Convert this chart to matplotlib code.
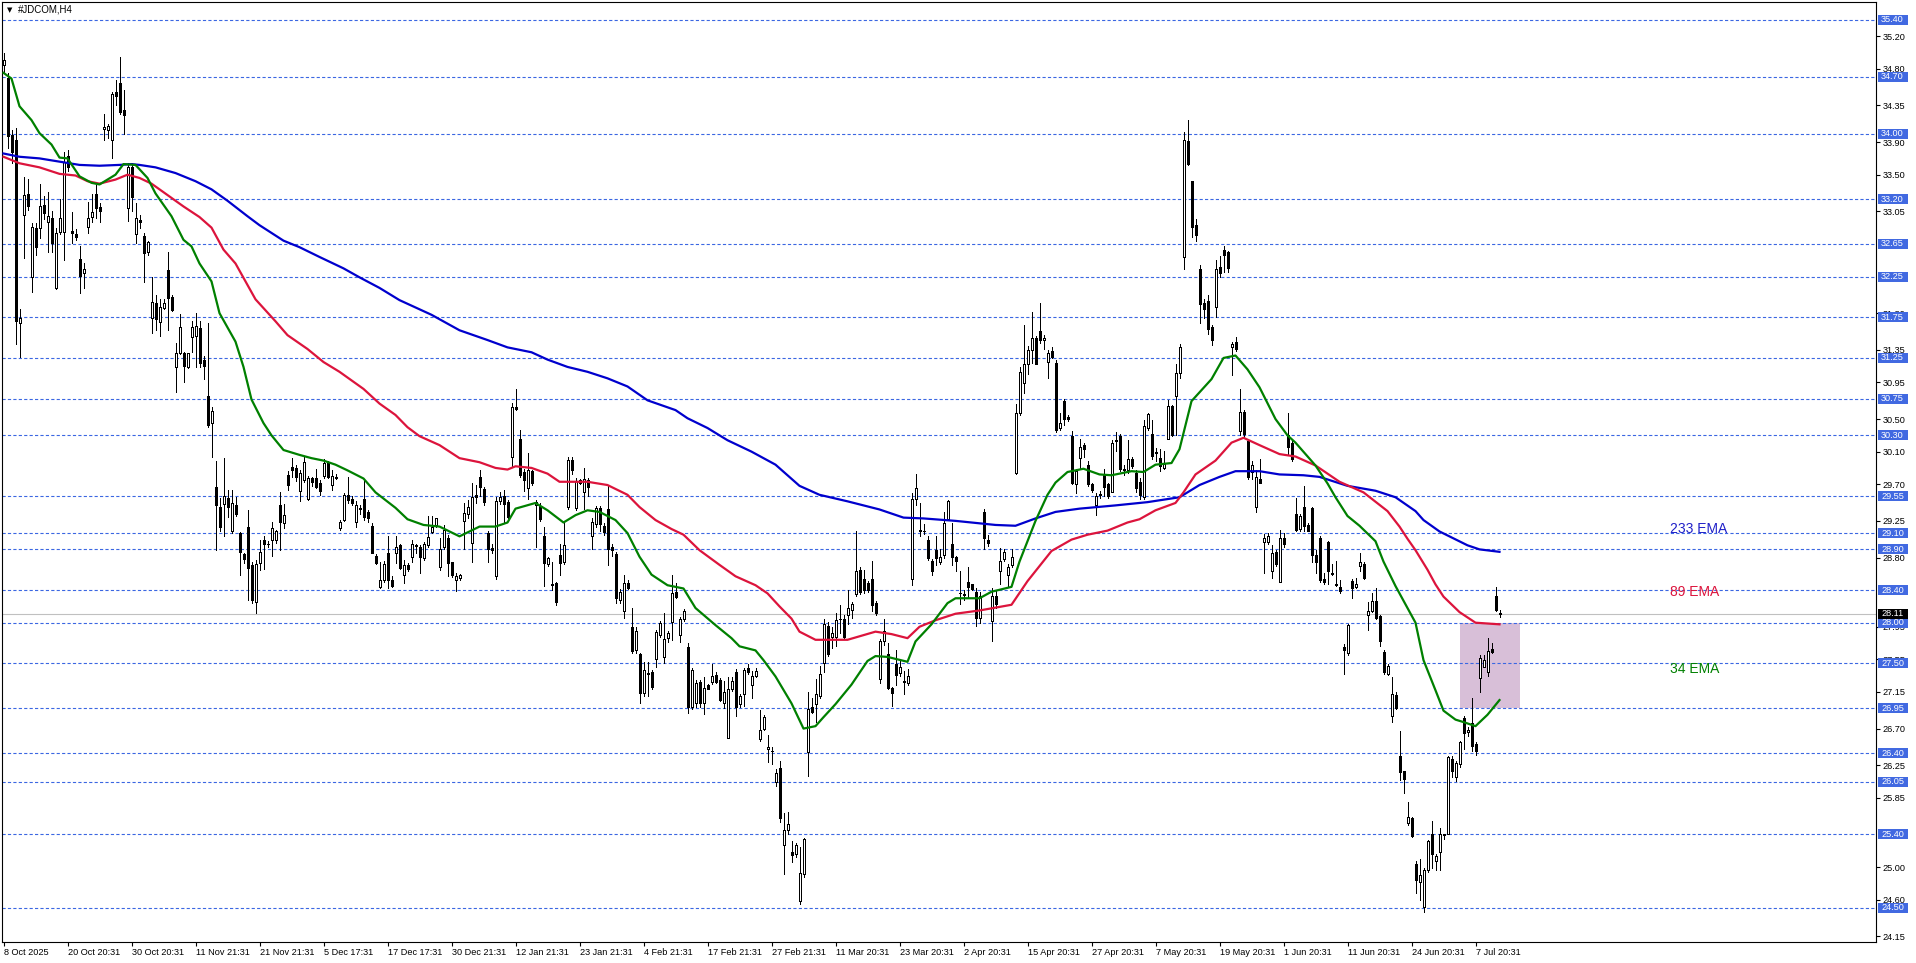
import matplotlib
matplotlib.use("Agg")
import matplotlib.pyplot as plt
from matplotlib.patches import Rectangle
from matplotlib.transforms import blended_transform_factory
import numpy as np

# H4 candles, bar 0 = 8 Oct 2025 (10 per line)
opens = [
    34.85, 34.69, 33.99, 33.92, 31.68, 33.00, 33.26, 32.25, 32.84, 32.84,  # 0
    33.13, 32.92, 32.97, 32.11, 32.80, 32.80, 33.73, 32.81, 32.77, 32.47,  # 10
    32.29, 32.86, 32.98, 33.26, 33.10, 34.06, 34.05, 33.92, 34.52, 34.63,  # 20
    34.30, 33.09, 33.59, 32.77, 32.94, 32.75, 32.55, 31.74, 31.92, 31.69,  # 30
    31.86, 32.33, 32.00, 31.14, 31.31, 31.31, 31.14, 31.51, 31.52, 31.62,  # 40
    31.22, 30.78, 30.45, 29.67, 29.42, 29.46, 29.53, 29.12, 29.44, 29.10,  # 50
    28.84, 29.17, 28.71, 28.25, 28.73, 29.02, 28.97, 29.01, 29.01, 29.44,  # 60
    29.22, 29.81, 29.91, 29.90, 29.62, 29.75, 29.52, 29.78, 29.78, 29.71,  # 70
    29.80, 29.96, 29.69, 29.79, 29.16, 29.26, 29.57, 29.52, 29.24, 29.41,  # 80
    29.52, 29.36, 29.19, 28.82, 28.44, 28.52, 28.86, 28.52, 28.86, 28.95,  # 90
    28.58, 28.71, 28.81, 28.94, 28.93, 28.79, 28.95, 29.11, 29.20, 28.68,  # 100
    28.93, 29.04, 28.74, 28.53, 28.55, 29.25, 29.34, 28.98, 29.57, 29.79,  # 110
    29.64, 29.10, 28.92, 28.57, 29.49, 29.56, 29.48, 30.04, 30.65, 30.26,  # 120
    29.85, 29.65, 29.86, 29.44, 29.43, 29.06, 28.72, 28.47, 28.49, 28.83,  # 130
    28.74, 29.42, 30.00, 29.41, 29.75, 29.61, 29.75, 29.06, 29.21, 29.41,  # 140
    29.19, 29.39, 28.93, 28.84, 28.28, 28.14, 28.49, 27.95, 27.66, 27.62,  # 150
    27.14, 27.37, 27.39, 27.55, 27.85, 27.58, 27.81, 28.01, 28.38, 27.85,  # 160
    28.05, 27.70, 26.96, 27.01, 27.27, 27.01, 27.23, 27.27, 27.36, 27.30,  # 170
    27.02, 26.59, 27.18, 27.39, 27.00, 27.12, 27.44, 27.24, 27.34, 26.57,  # 180
    26.69, 26.45, 26.42, 26.05, 26.22, 25.27, 25.45, 25.19, 25.16, 24.58,  # 190
    24.91, 26.41, 26.97, 27.00, 27.10, 27.50, 27.96, 27.82, 27.82, 28.04,  # 200
    28.05, 28.10, 28.16, 28.35, 28.65, 28.54, 28.49, 28.54, 28.24, 27.31,  # 210
    27.77, 27.62, 27.20, 27.49, 27.38, 27.28, 27.26, 28.54, 29.52, 29.12,  # 220
    29.13, 29.02, 28.76, 28.89, 28.75, 28.83, 29.27, 28.96, 28.81, 28.37,  # 230
    28.35, 28.50, 28.47, 28.38, 28.06, 29.36, 29.02, 28.02, 28.33, 28.64,  # 240
    28.78, 28.58, 28.71, 29.84, 30.58, 30.94, 31.17, 31.35, 31.50, 31.58,  # 250
    31.47, 31.20, 31.33, 31.19, 30.39, 30.72, 30.52, 30.29, 29.70, 30.02,  # 260
    30.18, 29.94, 29.70, 29.44, 29.58, 29.82, 29.70, 29.61, 30.24, 30.29,  # 270
    29.89, 29.87, 30.01, 29.84, 29.73, 29.54, 30.39, 30.32, 30.09, 30.02,  # 280
    29.90, 30.26, 30.66, 30.78, 31.06, 32.49, 33.91, 33.42, 32.88, 32.34,  # 290
    31.92, 31.95, 31.63, 31.88, 32.37, 32.57, 32.55, 31.38, 31.45, 30.35,  # 300
    30.59, 30.23, 29.85, 29.42, 29.77, 28.99, 28.99, 28.63, 28.87, 28.50,  # 310
    29.04, 30.31, 30.21, 29.34, 29.15, 29.42, 29.20, 29.41, 28.83, 29.04,  # 320
    28.54, 28.99, 28.61, 28.48, 28.44, 27.70, 27.63, 28.51, 28.44, 28.69,  # 330
    28.72, 28.10, 28.14, 28.27, 28.08, 27.64, 27.37, 26.85, 27.11, 26.36,  # 340
    26.18, 25.54, 25.60, 25.04, 24.82, 24.51, 24.96, 25.41, 25.07, 25.18,  # 350
    25.39, 25.41, 26.33, 26.10, 26.27, 26.83, 26.66, 26.77, 26.51, 27.32,  # 360
    27.46, 27.40, 27.68, 28.33, 28.12,                                     # 370
]
highs = [
    35.00, 34.75, 34.05, 34.07, 31.85, 33.47, 33.45, 32.91, 32.91, 33.39,
    33.24, 33.29, 33.05, 32.85, 33.20, 33.78, 33.80, 33.04, 32.83, 32.63,
    32.42, 33.16, 33.26, 33.37, 33.15, 34.25, 34.12, 34.52, 34.66, 34.94,
    34.54, 33.64, 33.64, 33.15, 33.00, 32.78, 32.69, 32.24, 32.02, 31.97,
    31.97, 32.55, 32.02, 31.43, 31.79, 31.32, 31.31, 31.70, 31.80, 31.70,
    31.27, 31.68, 30.65, 29.98, 29.53, 30.02, 29.63, 29.63, 29.54, 29.11,
    28.86, 29.38, 28.74, 28.77, 29.01, 29.06, 29.00, 29.24, 29.14, 29.61,
    29.46, 29.86, 30.02, 29.94, 29.87, 30.05, 29.80, 29.79, 29.89, 29.75,
    30.01, 29.98, 29.87, 29.82, 29.26, 29.59, 29.79, 29.55, 29.49, 29.44,
    29.76, 29.38, 29.22, 28.84, 28.74, 28.76, 29.07, 28.57, 29.06, 28.96,
    28.77, 28.73, 29.02, 28.97, 28.95, 28.99, 29.31, 29.31, 29.29, 29.04,
    29.20, 29.08, 28.75, 28.61, 28.60, 29.47, 29.51, 29.72, 29.69, 29.88,
    29.66, 29.12, 28.96, 29.54, 29.60, 29.63, 29.51, 30.70, 30.87, 30.36,
    29.89, 30.08, 29.87, 29.51, 29.47, 29.17, 28.81, 28.74, 28.50, 28.97,
    29.24, 30.04, 30.04, 29.78, 29.77, 29.90, 29.78, 29.28, 29.43, 29.43,
    29.22, 29.69, 28.96, 28.87, 28.41, 28.58, 28.53, 28.18, 27.95, 27.63,
    27.52, 27.52, 27.42, 27.91, 28.02, 28.12, 27.90, 28.58, 28.49, 28.07,
    28.17, 27.75, 27.44, 27.30, 27.30, 27.33, 27.25, 27.49, 27.39, 27.32,
    27.29, 27.33, 27.33, 27.43, 27.12, 27.44, 27.49, 27.41, 27.44, 26.93,
    26.87, 26.62, 26.48, 26.20, 26.30, 25.66, 25.67, 25.32, 25.30, 25.25,
    25.36, 27.15, 27.07, 27.31, 27.47, 28.05, 28.01, 27.95, 28.12, 28.22,
    28.10, 28.40, 28.26, 29.13, 28.68, 28.65, 28.51, 28.76, 28.27, 27.80,
    28.05, 27.75, 27.21, 27.66, 27.53, 27.41, 27.43, 29.59, 29.82, 29.47,
    29.21, 29.07, 28.78, 29.07, 28.90, 29.36, 29.51, 29.22, 28.82, 28.64,
    28.40, 28.68, 28.48, 28.42, 28.38, 29.39, 29.08, 28.43, 28.40, 28.92,
    28.91, 28.72, 28.91, 30.69, 31.14, 31.65, 31.40, 31.82, 31.52, 31.93,
    31.53, 31.35, 31.38, 31.22, 30.57, 30.75, 30.55, 30.35, 29.89, 30.26,
    30.21, 29.99, 29.72, 29.59, 29.62, 29.89, 29.72, 30.24, 30.34, 30.32,
    29.94, 30.24, 30.03, 29.88, 29.78, 30.49, 30.58, 30.49, 30.14, 30.13,
    30.11, 30.73, 30.67, 31.17, 31.42, 34.02, 34.17, 33.42, 32.96, 32.39,
    31.97, 32.02, 31.66, 32.45, 32.50, 32.63, 32.56, 31.44, 31.51, 30.87,
    30.61, 30.24, 29.98, 29.87, 30.01, 29.09, 29.10, 28.95, 28.89, 29.14,
    29.10, 30.58, 30.24, 29.53, 29.34, 29.68, 29.23, 29.42, 28.89, 29.06,
    28.61, 29.00, 28.72, 28.76, 28.53, 27.74, 27.99, 28.54, 28.55, 28.85,
    28.75, 28.26, 28.37, 28.42, 28.10, 27.66, 27.49, 27.33, 27.15, 26.67,
    26.18, 25.80, 25.61, 25.07, 25.10, 24.99, 25.33, 25.57, 25.16, 25.48,
    25.41, 26.36, 26.36, 26.30, 26.55, 26.85, 26.72, 27.08, 26.53, 27.60,
    27.60, 27.81, 27.75, 28.44, 28.16,
]
lows = [
    34.75, 33.83, 33.64, 31.42, 31.26, 32.48, 33.07, 32.06, 32.51, 32.72,
    32.95, 32.55, 32.55, 32.10, 32.77, 32.45, 33.55, 32.66, 32.70, 32.05,
    32.11, 32.78, 32.92, 32.97, 32.92, 33.93, 33.95, 33.70, 34.36, 34.25,
    34.00, 32.93, 33.05, 32.66, 32.85, 32.18, 32.52, 31.56, 31.59, 31.52,
    31.85, 31.59, 31.83, 30.83, 31.30, 30.96, 31.13, 31.32, 31.14, 31.14,
    30.99, 30.40, 30.04, 28.89, 29.12, 29.07, 29.30, 29.10, 29.31, 28.59,
    28.73, 28.28, 28.24, 28.12, 28.65, 28.66, 28.93, 28.82, 28.98, 28.89,
    29.16, 29.63, 29.79, 29.74, 29.50, 29.73, 29.51, 29.68, 29.65, 29.57,
    29.78, 29.78, 29.63, 29.76, 29.14, 29.25, 29.47, 29.45, 29.18, 29.34,
    29.26, 29.24, 28.85, 28.72, 28.43, 28.50, 28.43, 28.44, 28.73, 28.66,
    28.49, 28.63, 28.75, 28.86, 28.61, 28.77, 28.93, 29.10, 29.17, 28.65,
    28.91, 28.57, 28.56, 28.39, 28.53, 28.90, 29.28, 28.74, 29.47, 29.56,
    29.45, 28.74, 28.85, 28.54, 29.46, 29.24, 29.28, 29.91, 30.61, 29.79,
    29.62, 29.52, 29.69, 28.93, 29.25, 28.45, 28.70, 28.40, 28.22, 28.59,
    28.72, 29.40, 29.83, 29.38, 29.70, 29.40, 29.55, 28.91, 29.18, 29.13,
    29.08, 28.71, 28.82, 28.24, 28.24, 28.06, 28.41, 27.63, 27.63, 27.02,
    27.10, 27.10, 27.18, 27.45, 27.83, 27.50, 27.76, 27.79, 28.30, 27.76,
    28.02, 26.89, 26.94, 26.97, 26.97, 26.88, 27.18, 27.25, 27.26, 27.04,
    26.95, 26.59, 27.16, 26.86, 26.97, 26.98, 27.37, 27.08, 27.33, 26.55,
    26.68, 26.29, 26.27, 26.00, 25.55, 24.92, 25.40, 25.06, 25.12, 24.55,
    24.88, 26.12, 26.89, 26.78, 27.08, 27.39, 27.59, 27.69, 27.72, 27.87,
    27.80, 27.99, 28.06, 28.33, 28.35, 28.37, 28.38, 28.14, 28.10, 27.26,
    27.73, 27.18, 26.98, 27.23, 27.34, 27.13, 27.24, 28.46, 29.45, 29.07,
    29.09, 28.77, 28.58, 28.71, 28.72, 28.80, 29.26, 28.71, 28.64, 28.23,
    28.28, 28.32, 28.40, 27.96, 28.00, 28.91, 28.94, 27.78, 28.18, 28.48,
    28.76, 28.45, 28.68, 29.83, 30.55, 30.82, 31.05, 31.19, 31.17, 31.43,
    31.36, 31.00, 31.25, 30.34, 30.37, 30.43, 30.47, 29.70, 29.59, 29.90,
    30.03, 29.68, 29.61, 29.32, 29.53, 29.55, 29.53, 29.60, 30.11, 29.86,
    29.81, 29.84, 29.90, 29.60, 29.52, 29.52, 30.37, 30.01, 29.98, 29.86,
    29.89, 30.25, 30.29, 30.30, 31.00, 32.34, 33.62, 32.74, 32.68, 31.68,
    31.74, 31.54, 31.41, 31.75, 32.25, 32.30, 32.31, 31.04, 31.34, 30.30,
    30.27, 29.76, 29.76, 29.36, 29.71, 28.61, 28.97, 28.55, 28.69, 28.50,
    28.93, 30.07, 29.98, 29.13, 29.12, 29.13, 29.12, 28.75, 28.61, 28.50,
    28.47, 28.47, 28.58, 28.45, 28.37, 27.37, 27.60, 28.30, 28.42, 28.64,
    28.54, 27.91, 28.13, 28.05, 27.71, 27.37, 27.36, 26.78, 26.94, 26.07,
    25.91, 25.52, 25.37, 24.68, 24.60, 24.45, 24.94, 24.99, 24.97, 24.97,
    25.35, 25.41, 26.10, 26.06, 26.23, 26.45, 26.61, 26.42, 26.38, 27.15,
    27.45, 27.35, 27.63, 28.14, 28.07,
]
closes = [
    34.91, 33.97, 33.78, 31.70, 31.74, 33.25, 33.12, 32.86, 32.61, 33.12,
    33.03, 32.99, 32.66, 32.78, 32.97, 33.65, 33.60, 32.78, 32.74, 32.26,
    32.34, 32.97, 33.04, 33.09, 33.06, 34.09, 34.10, 34.49, 34.46, 34.27,
    34.23, 33.60, 33.22, 32.97, 32.92, 32.54, 32.67, 31.94, 31.73, 31.88,
    31.92, 31.98, 31.84, 31.31, 31.63, 31.15, 31.31, 31.63, 31.64, 31.19,
    31.15, 30.43, 30.60, 29.44, 29.17, 29.56, 29.42, 29.47, 29.34, 28.87,
    28.78, 28.67, 28.28, 28.72, 28.87, 28.96, 28.96, 29.16, 29.12, 29.24,
    29.32, 29.69, 29.87, 29.79, 29.84, 29.97, 29.78, 29.73, 29.67, 29.62,
    29.96, 29.79, 29.80, 29.78, 29.24, 29.57, 29.51, 29.47, 29.44, 29.40,
    29.30, 29.29, 28.86, 28.73, 28.52, 28.72, 28.52, 28.45, 28.93, 28.67,
    28.71, 28.66, 28.96, 28.95, 28.81, 28.96, 29.05, 29.17, 29.28, 28.91,
    29.14, 28.73, 28.58, 28.57, 28.59, 29.35, 29.42, 29.54, 29.54, 29.66,
    29.48, 28.91, 28.89, 29.50, 29.54, 29.46, 29.30, 30.65, 30.62, 29.81,
    29.75, 29.87, 29.71, 29.48, 29.27, 28.73, 28.79, 28.46, 28.25, 28.73,
    28.95, 30.00, 29.88, 29.74, 29.71, 29.77, 29.66, 29.24, 29.41, 29.21,
    29.11, 28.91, 28.89, 28.30, 28.38, 28.49, 28.43, 27.65, 27.90, 27.14,
    27.42, 27.38, 27.21, 27.88, 28.00, 27.80, 27.87, 28.36, 28.31, 28.04,
    28.14, 26.96, 27.42, 27.26, 27.02, 27.20, 27.19, 27.35, 27.27, 27.05,
    27.15, 27.18, 27.29, 26.96, 27.10, 27.42, 27.40, 27.35, 27.41, 26.68,
    26.84, 26.47, 26.43, 26.15, 25.60, 25.45, 25.53, 25.15, 25.27, 24.93,
    25.34, 26.94, 26.90, 27.13, 27.37, 27.98, 27.61, 27.87, 28.03, 28.05,
    27.83, 28.18, 28.23, 28.64, 28.38, 28.40, 28.40, 28.22, 28.12, 27.77,
    27.90, 27.20, 27.14, 27.36, 27.45, 27.27, 27.35, 29.52, 29.65, 29.14,
    29.12, 28.79, 28.64, 28.79, 28.81, 29.22, 29.49, 28.81, 28.76, 28.36,
    28.34, 28.44, 28.41, 28.06, 28.33, 29.04, 28.98, 28.33, 28.23, 28.76,
    28.87, 28.68, 28.81, 30.58, 31.08, 31.17, 31.35, 31.49, 31.18, 31.47,
    31.50, 31.31, 31.26, 30.37, 30.45, 30.50, 30.50, 29.71, 29.86, 30.16,
    30.13, 29.70, 29.63, 29.55, 29.57, 29.66, 29.55, 30.21, 30.23, 29.89,
    29.88, 30.01, 29.92, 29.65, 29.57, 30.41, 30.56, 30.05, 30.08, 29.92,
    29.95, 30.66, 30.30, 31.07, 31.38, 33.92, 33.63, 32.86, 32.76, 31.91,
    31.85, 31.60, 31.47, 32.34, 32.29, 32.51, 32.35, 31.42, 31.36, 30.59,
    30.32, 29.79, 29.93, 29.79, 29.72, 29.04, 29.06, 28.86, 28.72, 29.04,
    28.96, 30.16, 30.01, 29.14, 29.31, 29.19, 29.13, 28.83, 28.75, 28.53,
    28.50, 28.64, 28.60, 28.46, 28.39, 27.67, 27.97, 28.42, 28.48, 28.74,
    28.55, 28.14, 28.27, 28.06, 27.77, 27.39, 27.47, 27.12, 26.95, 26.17,
    26.08, 25.61, 25.38, 24.84, 24.90, 24.97, 25.32, 25.16, 25.14, 25.41,
    25.40, 26.35, 26.18, 26.28, 26.53, 26.64, 26.68, 26.49, 26.43, 27.57,
    27.54, 27.65, 27.64, 28.16, 28.11,
]

# moving averages, sampled along the plotted lines (bar index, price)
ema34_bars = [
    0, 2, 4, 7, 9, 12, 14, 16, 19, 22,
    24, 28, 30, 33, 36, 38, 42, 45, 47, 49,
    52, 54, 58, 60, 62, 65, 67, 70, 72, 74,
    77, 80, 83, 86, 90, 93, 98, 101, 105, 109,
    114, 119, 123, 126, 128, 133, 136, 140, 143, 146,
    149, 153, 156, 159, 162, 166, 170, 173, 178, 182,
    184, 188, 190, 193, 197, 200, 203, 205, 208, 212,
    216, 218, 221, 226, 228, 232, 236, 238, 244, 247,
    252, 254, 258, 261, 263, 266, 270, 274, 277, 282,
    285, 288, 292, 294, 297, 302, 305, 308, 311, 314,
    318, 321, 323, 328, 331, 333, 336, 339, 343, 345,
    348, 353, 355, 358, 360, 363, 365, 368, 371, 374,
]
ema34 = [
    34.75, 34.68, 34.34, 34.17, 34.01, 33.87, 33.71, 33.70, 33.48, 33.40,
    33.38, 33.50, 33.63, 33.62, 33.46, 33.27, 32.99, 32.70, 32.62, 32.41,
    32.19, 31.80, 31.45, 31.14, 30.74, 30.45, 30.30, 30.12, 30.09, 30.06,
    30.02, 29.99, 29.94, 29.87, 29.77, 29.60, 29.41, 29.27, 29.20, 29.18,
    29.06, 29.18, 29.18, 29.23, 29.40, 29.47, 29.38, 29.23, 29.32, 29.38,
    29.36, 29.26, 29.10, 28.81, 28.59, 28.46, 28.42, 28.18, 27.97, 27.81,
    27.71, 27.66, 27.54, 27.34, 27.01, 26.70, 26.73, 26.84, 27.00, 27.24,
    27.53, 27.59, 27.58, 27.52, 27.77, 27.98, 28.24, 28.30, 28.30, 28.38,
    28.44, 28.75, 29.25, 29.57, 29.72, 29.85, 29.89, 29.82, 29.81, 29.86,
    29.85, 29.94, 29.96, 30.13, 30.72, 30.99, 31.25, 31.28, 31.11, 30.89,
    30.50, 30.30, 30.21, 29.93, 29.71, 29.54, 29.31, 29.19, 29.00, 28.75,
    28.45, 28.00, 27.54, 27.17, 26.92, 26.81, 26.78, 26.73, 26.87, 27.05,
]
ema89_bars = [
    0, 4, 9, 14, 18, 21, 24, 28, 31, 34,
    37, 41, 45, 49, 52, 55, 58, 63, 68, 71,
    76, 80, 84, 90, 94, 98, 101, 104, 109, 114,
    119, 123, 126, 128, 132, 136, 139, 146, 151, 156,
    159, 163, 167, 170, 174, 179, 183, 188, 191, 194,
    197, 199, 203, 211, 218, 222, 226, 229, 233, 238,
    244, 252, 256, 262, 267, 271, 276, 281, 284, 288,
    293, 295, 298, 303, 307, 310, 314, 319, 323, 328,
    334, 340, 346, 349, 351, 353, 356, 358, 360, 364,
    368, 374,
]
ema89 = [
    33.72, 33.64, 33.59, 33.51, 33.49, 33.42, 33.39, 33.44, 33.50, 33.46,
    33.39, 33.25, 33.11, 32.98, 32.85, 32.58, 32.41, 31.97, 31.70, 31.53,
    31.36, 31.20, 31.08, 30.87, 30.69, 30.55, 30.40, 30.29, 30.18, 30.02,
    29.97, 29.90, 29.88, 29.92, 29.90, 29.83, 29.73, 29.73, 29.69, 29.57,
    29.42, 29.26, 29.15, 29.08, 28.89, 28.71, 28.57, 28.46, 28.36, 28.20,
    28.05, 27.89, 27.79, 27.79, 27.89, 27.86, 27.81, 27.95, 28.03, 28.11,
    28.15, 28.22, 28.51, 28.88, 29.02, 29.08, 29.13, 29.23, 29.27, 29.38,
    29.47, 29.60, 29.82, 29.99, 30.21, 30.27, 30.18, 30.07, 30.04, 29.93,
    29.73, 29.60, 29.37, 29.18, 29.03, 28.89, 28.65, 28.47, 28.32, 28.13,
    28.00, 27.98,
]
ema233_bars = [
    0, 4, 9, 14, 19, 24, 29, 32, 34, 38,
    43, 48, 52, 56, 61, 64, 70, 74, 79, 85,
    89, 94, 99, 107, 114, 121, 126, 132, 136, 141,
    146, 151, 156, 161, 168, 171, 176, 181, 187, 193,
    199, 204, 211, 219, 225, 230, 238, 244, 248, 253,
    258, 263, 269, 278, 286, 294, 299, 304, 308, 314,
    319, 325, 329, 336, 343, 348, 353, 355, 359, 366,
    369, 374,
]
ema233 = [
    33.76, 33.72, 33.70, 33.66, 33.62, 33.61, 33.62, 33.63, 33.62, 33.59,
    33.52, 33.42, 33.32, 33.18, 32.99, 32.88, 32.69, 32.61, 32.49, 32.35,
    32.24, 32.11, 31.96, 31.78, 31.59, 31.47, 31.38, 31.32, 31.23, 31.14,
    31.08, 31.00, 30.90, 30.73, 30.61, 30.51, 30.39, 30.24, 30.10, 29.94,
    29.68, 29.57, 29.49, 29.39, 29.29, 29.28, 29.25, 29.22, 29.20, 29.19,
    29.28, 29.36, 29.40, 29.44, 29.48, 29.54, 29.69, 29.79, 29.86, 29.86,
    29.82, 29.81, 29.79, 29.68, 29.62, 29.54, 29.37, 29.26, 29.12, 28.95,
    28.90, 28.87,
]

# horizontal levels drawn on the chart and the price scale
levels = [35.40, 34.70, 34.00, 33.20, 32.65, 32.25, 31.75, 31.25, 30.75, 30.30,
          29.55, 29.10, 28.90, 28.40, 28.00, 27.50, 26.95, 26.40, 26.05, 25.40, 24.50]
price_ticks = [35.20, 34.80, 34.35, 33.90, 33.50, 33.05, 31.80, 31.35,
               30.95, 30.50, 30.10, 29.70, 29.25, 28.80, 27.95, 27.55, 27.15,
               26.70, 26.25, 25.85, 25.00, 24.60, 24.15]
last_price = 28.11

date_bars = [0, 16, 32, 48, 64, 80, 96, 112, 128, 144, 160, 176,
             192, 208, 224, 240, 256, 272, 288, 304, 320, 336, 352, 368]
date_labels = ["8 Oct 2025", "20 Oct 20:31", "30 Oct 20:31", "11 Nov 21:31",
               "21 Nov 21:31", "5 Dec 17:31", "17 Dec 17:31", "30 Dec 21:31",
               "12 Jan 21:31", "23 Jan 21:31", "4 Feb 21:31", "17 Feb 21:31",
               "27 Feb 21:31", "11 Mar 20:31", "23 Mar 20:31", "2 Apr 20:31",
               "15 Apr 20:31", "27 Apr 20:31", "7 May 20:31", "19 May 20:31",
               "1 Jun 20:31", "11 Jun 20:31", "24 Jun 20:31", "7 Jul 20:31"]

box_bars = [364, 379]
box_prices = [26.95, 28.00]

W, H = 1916, 963
LEVEL_BLUE = "#3B67E2"
LABEL_BLUE = "#4169E1"


def draw_candles(ax):
    o, h, l, c = (np.array(v) for v in (opens, highs, lows, closes))
    x = np.arange(len(c))
    up = c >= o
    lo = np.minimum(o, c)
    hi = np.maximum(o, c)
    ax.vlines(x, l, h, color="black", lw=0.72, zorder=3, antialiased=False)
    ax.bar(x[up], (hi - lo)[up], bottom=lo[up], width=0.5, facecolor="white",
           edgecolor="black", lw=0.72, zorder=4, antialiased=False)
    ax.bar(x[~up], (hi - lo)[~up], bottom=lo[~up], width=0.5, facecolor="black",
           edgecolor="black", lw=0.72, zorder=4, antialiased=False)


def main():
    plt.rcParams.update({
        "font.family": ["Liberation Sans", "DejaVu Sans"],
        "lines.scale_dashes": False,
    })
    fig = plt.figure(figsize=(W / 100, H / 100), dpi=100)
    ax = fig.add_axes([2 / W, 21 / H, 1874 / W, 940 / H])
    ax.set_facecolor("white")

    ax.add_patch(Rectangle((box_bars[0], box_prices[0]), box_bars[1] - box_bars[0],
                           box_prices[1] - box_prices[0], facecolor="#D8BFD8",
                           edgecolor="none", zorder=0.5))
    for lv in levels:
        ax.axhline(lv, color=LEVEL_BLUE, lw=0.8, dashes=(2.3, 1.6), zorder=1)
    ax.axhline(last_price, color="#C0C0C0", lw=0.8, zorder=1)

    draw_candles(ax)

    ax.plot(ema233_bars, ema233, color="#0000CD", lw=1.6, zorder=5)
    ax.plot(ema89_bars, ema89, color="#DC143C", lw=1.6, zorder=5)
    ax.plot(ema34_bars, ema34, color="#008000", lw=1.6, zorder=5)

    ax.text(416.75, 29.15, "233 EMA", color="#2020C8", fontsize=10, va="center")
    ax.text(416.75, 28.38, "89 EMA", color="#DC143C", fontsize=10, va="center")
    ax.text(416.75, 27.43, "34 EMA", color="#008000", fontsize=10, va="center")

    # bar centres land on pixel centres (x = 3.5 + 4 * bar)
    ax.set_xlim(-0.375, 468.125)
    ax.set_ylim(24.08, 35.62)

    # price scale on the right
    ax.yaxis.tick_right()
    ax.set_yticks(price_ticks)
    ax.set_yticklabels([f"{t:.2f}" for t in price_ticks])
    ax.tick_params(axis="y", direction="out", length=3, width=0.8, pad=1.5,
                   labelsize=6.6, colors="black")
    ax.set_xticks(date_bars)
    ax.set_xticklabels(date_labels, ha="left")
    ax.tick_params(axis="x", direction="out", length=3, width=0.8, pad=1.5,
                   labelsize=6.6)
    for sp in ax.spines.values():
        sp.set_linewidth(0.8)
        sp.set_color("black")

    trans = blended_transform_factory(ax.transAxes, ax.transData)
    bx0 = (1878 - 2) / 1874
    bw = 30 / 1874
    bh = 10 / 81.44
    tx = (1881 - 2) / 1874
    for lv in levels:
        ax.add_patch(Rectangle((bx0, lv - bh / 2), bw, bh, transform=trans,
                               facecolor=LABEL_BLUE, edgecolor="none",
                               clip_on=False, zorder=6))
        ax.text(tx, lv, f"{lv:.2f}", transform=trans, color="white", fontsize=6.6,
                va="center", ha="left", zorder=7)
    ax.add_patch(Rectangle((bx0, last_price - bh / 2), bw, bh, transform=trans,
                           facecolor="black", edgecolor="none", clip_on=False, zorder=8))
    ax.text(tx, last_price, f"{last_price:.2f}", transform=trans, color="white",
            fontsize=6.6, va="center", ha="left", zorder=9)

    fig.text(7 / W, 1 - 10 / H, "\u25bc", fontsize=5, family="DejaVu Sans",
             va="center", ha="left")
    fig.text(18 / W, 1 - 10 / H, "#JDCOM,H4", fontsize=7, va="center", ha="left")

    fig.savefig("out.png", dpi=100)
    plt.close(fig)


if __name__ == "__main__":
    main()
